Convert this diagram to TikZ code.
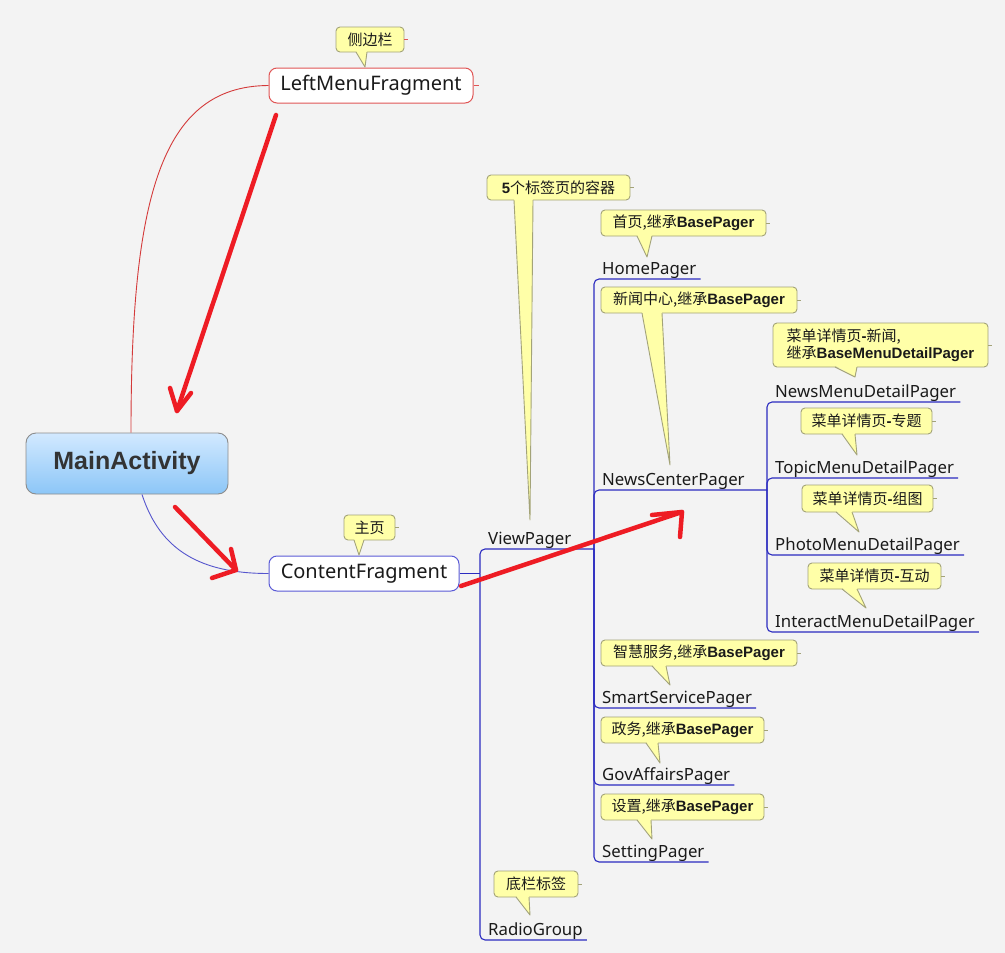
\documentclass[tikz,border=0pt]{standalone}
\usepackage{fontspec}
\setmainfont{Noto Sans}
\newfontfamily\cjk{Noto Sans CJK SC}
\newfontfamily\lib{Liberation Sans}
\definecolor{bgc}{HTML}{F3F3F3}
\definecolor{callfill}{HTML}{FFFFA8}
\definecolor{callline}{HTML}{A3A378}
\definecolor{treeblue}{HTML}{2B2BC0}
\definecolor{boxblue}{HTML}{5A5AD6}
\definecolor{boxred}{HTML}{E05555}
\definecolor{curvered}{HTML}{D43A3A}
\definecolor{penred}{HTML}{EE1C24}
\definecolor{maintop}{HTML}{D2E9FF}
\definecolor{mainbot}{HTML}{8CC6F7}
\definecolor{mainline}{HTML}{8C8C8C}
\definecolor{txt}{HTML}{1A1A1A}
\newcommand\bp{{\lib\bfseries BasePager}}
\newcommand\bh{{\lib\bfseries -}}
\tikzset{
 bigbox/.style={draw, rounded corners=8pt, fill=white, line width=1pt, minimum height=35pt, inner sep=0pt, text=txt, font=\fontsize{20}{24}\selectfont},
 leaf/.style={anchor=south west, inner xsep=4pt, inner ysep=4.5pt, text depth=0pt, text=txt, font=\fontsize{16.8}{20}\selectfont},
 callbox/.style={draw=callline, fill=callfill, rounded corners=4pt, line width=0.9pt, inner sep=0pt, align=left, text=txt, font=\cjk\fontsize{15}{17}\selectfont},
 tailfill/.style={fill=callfill},
 tailline/.style={draw=callline, line width=0.9pt, line join=round},
 tick/.style={draw=callline, line width=0.9pt},
 tree/.style={draw=treeblue, line width=1.1pt, rounded corners=5pt},
 pen/.style={draw=penred, line width=4.5pt, line cap=round, line join=round},
}
% #1 name, #2 x1, #3 y1, #4 x2, #5 y2, #6 tail a, #7 tail b, #8 tip, #9 text
\newcommand\mycallout[9]{%
 \pgfmathsetmacro\cw{#4-#2}\pgfmathsetmacro\ch{#5-#3}%
 \node[callbox, minimum width=\cw pt, minimum height=\ch pt] (#1) at ({(#2+#4)/2},{(#3+#5)/2}) {#9};
 \fill[tailfill] (#6,#5-1.4) -- (#8) -- (#7,#5-1.4) -- cycle;
 \draw[tailline] (#6,#5) -- (#8) -- (#7,#5);
 \draw[tick] (#1.east) -- ++(4,0);
}
\begin{document}
\begin{tikzpicture}[x=1pt,y=-1pt]
\useasboundingbox (0,0) rectangle (1005,953);
\fill[bgc] (0,0) rectangle (1005,953);

% main nodes
\node[draw=mainline, line width=0.9pt, rounded corners=10pt, top color=maintop, bottom color=mainbot, minimum width=202pt, minimum height=61pt, inner sep=0pt, font=\lib\bfseries\fontsize{25}{30}\selectfont, text=black!80] (main) at (127,463.5) {MainActivity};
\node[bigbox, draw=boxred, minimum width=204pt] (left) at (371,85.5) {LeftMenuFragment};
\node[bigbox, draw=boxblue, minimum width=190pt] (cf) at (364,573.5) {ContentFragment};

% curves from MainActivity
\draw[curvered, line width=0.9pt] ([xshift=4pt]main.north) .. controls (131,200) and (160,86) .. (left.west);
\draw[boxred, line width=0.9pt] (left.east) -- ++(5,0);
\draw[treeblue!80, line width=0.9pt] ([xshift=15pt]main.south) .. controls (160,550) and (200,573.5) .. (cf.west);

% leaves
\node[leaf] (vp) at (484,549) {ViewPager};
\node[leaf] (rg) at (484,940) {RadioGroup};
\node[leaf] (home) at (598,279) {HomePager};
\node[leaf] (ncp) at (598,490) {NewsCenterPager};
\node[leaf] (smart) at (598,708) {SmartServicePager};
\node[leaf] (gov) at (598,785) {GovAffairsPager};
\node[leaf] (setp) at (598,862) {SettingPager};
\node[leaf] (nmd) at (771,402) {NewsMenuDetailPager};
\node[leaf] (tmd) at (771,478) {TopicMenuDetailPager};
\node[leaf] (pmd) at (771,555) {PhotoMenuDetailPager};
\node[leaf] (imd) at (771,632) {InteractMenuDetailPager};

% tree connectors
\coordinate (cfj) at (480,573.5);
\coordinate (vpj) at (594,549);
\coordinate (ncpj) at (767,490);
\draw[tree] (cf.east) -- (cfj);
\draw[tree] (cfj) |- (vpj);
\draw[tree] (cfj) |- (rg.south east);
\draw[tree] (vpj) |- (home.south east);
\draw[tree] (vpj) |- (ncpj);
\draw[tree] (vpj) |- (smart.south east);
\draw[tree] (vpj) |- (gov.south east);
\draw[tree] (vpj) |- (setp.south east);
\draw[tree] (ncpj) |- (nmd.south east);
\draw[tree] (ncpj) |- (tmd.south east);
\draw[tree] (ncpj) |- (pmd.south east);
\draw[tree] (ncpj) |- (imd.south east);

% callouts
\begin{scope}[tick/.append style={draw=boxred}]
\mycallout{c1}{336}{27}{404}{52}{356}{367}{365,67}{侧边栏}
\end{scope}
\mycallout{c2}{344}{515}{395}{540}{354}{364}{359,555}{主页}
\mycallout{c3}{487}{175}{630}{200}{514}{533}{530,520}{{\lib\bfseries 5}个标签页的容器}
\mycallout{c4}{601}{210}{766}{236}{637}{652}{647,257}{首页,继承\bp}
\mycallout{c5}{601}{287}{797}{313}{642}{662}{670,465}{新闻中心,继承\bp}
\mycallout{c6}{773}{323}{988}{367}{835}{857}{855,377}{菜单详情页\bh 新闻,\\继承{\lib\bfseries BaseMenuDetailPager}}
\mycallout{c7}{801}{408}{932}{434}{842}{855}{857,455}{菜单详情页\bh 专题}
\mycallout{c8}{802}{485}{933}{512}{836}{852}{859,532}{菜单详情页\bh 组图}
\mycallout{c9}{808}{563}{941}{589}{842}{857}{866,608}{菜单详情页\bh 互动}
\mycallout{c10}{601}{640}{797}{666}{652}{666}{670,685}{智慧服务,继承\bp}
\mycallout{c11}{601}{717}{764}{743}{646}{658}{660,763}{政务,继承\bp}
\mycallout{c12}{601}{794}{764}{820}{637}{651}{652,839}{设置,继承\bp}
\mycallout{c13}{494}{871}{578}{897}{516}{529}{530,915}{底栏标签}

% hand-drawn red arrows
\coordinate (a1s) at (276,115); \coordinate (a1e) at (177,411);
\coordinate (a1l) at (170,388); \coordinate (a1r) at (191,393);
\draw[pen] (a1s) -- (a1e);
\draw[pen] (a1l) -- (a1e) -- (a1r);
\coordinate (a2s) at (175,507); \coordinate (a2e) at (236,570);
\coordinate (a2l) at (231,549); \coordinate (a2r) at (212,578);
\draw[pen] (a2s) -- (a2e);
\draw[pen] (a2l) -- (a2e) -- (a2r);
\coordinate (a3s) at (461,586); \coordinate (a3e) at (682,512);
\coordinate (a3l) at (652,515); \coordinate (a3r) at (680,537);
\draw[pen] (a3s) -- (a3e);
\draw[pen] (a3l) -- (a3e) -- (a3r);
\end{tikzpicture}
\end{document}
